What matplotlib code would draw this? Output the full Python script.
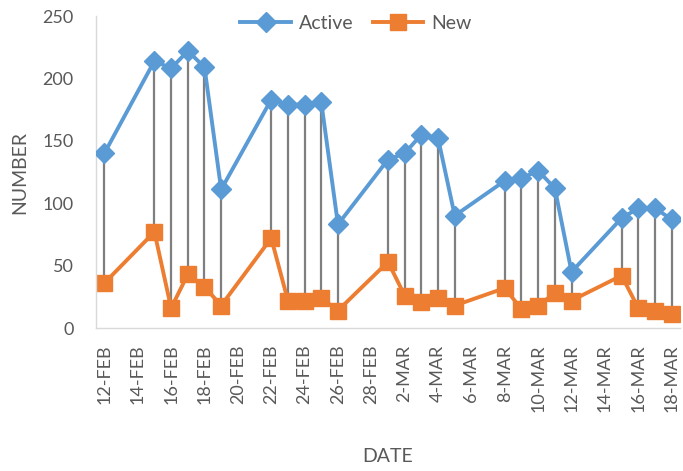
import matplotlib
matplotlib.use("Agg")
import matplotlib.pyplot as plt
import pandas as pd

plt.rcParams['font.family'] = ['Lato', 'DejaVu Sans']

dates = ["2021-02-12", "2021-02-15", "2021-02-16", "2021-02-17", "2021-02-18",
         "2021-02-19", "2021-02-22", "2021-02-23", "2021-02-24", "2021-02-25",
         "2021-02-26", "2021-03-01", "2021-03-02", "2021-03-03", "2021-03-04",
         "2021-03-05", "2021-03-08", "2021-03-09", "2021-03-10", "2021-03-11",
         "2021-03-12", "2021-03-15", "2021-03-16", "2021-03-17", "2021-03-18"]
active = [140, 214, 208, 222, 209, 111, 183, 179, 179, 181, 83,
          135, 140, 155, 152, 90, 118, 120, 126, 112, 45,
          88, 96, 96, 87]
new = [36, 77, 16, 43, 33, 18, 72, 22, 22, 24, 14,
       53, 26, 21, 24, 18, 32, 15, 18, 28, 22,
       42, 16, 14, 11]

x = pd.to_datetime(dates)
tick_dates = pd.date_range("2021-02-12", "2021-03-18", freq="2D")
tick_labels = [f"{d.day}-{d.strftime('%b').upper()}" for d in tick_dates]

BLUE = '#5B9BD5'
ORANGE = '#ED7D31'
TXT = '#595959'

fig = plt.figure(figsize=(6.83, 4.71), dpi=100)
ax = fig.add_axes([0.1406, 0.3036, 0.855, 0.6624])

ax.vlines(x, new, active, color='#7f7f7f', lw=1.6, zorder=1)
ax.plot(x, active, color=BLUE, lw=2.8, marker='D', markersize=10.5, label='Active', zorder=3)
ax.plot(x, new, color=ORANGE, lw=2.8, marker='s', markersize=12, label='New', zorder=2)

ax.set_ylim(0, 250)
ax.set_yticks(range(0, 251, 50))
ax.set_xlim(x[0] - pd.Timedelta(hours=12), x[-1] + pd.Timedelta(hours=12))
ax.set_xticks(tick_dates)
ax.set_xticklabels(tick_labels, rotation=90)

ax.tick_params(length=0, labelsize=13, colors=TXT, pad=12)
ax.tick_params(axis='y', pad=16)
for s in ['top', 'right']:
    ax.spines[s].set_visible(False)
for s in ['left', 'bottom']:
    ax.spines[s].set_color('#d9d9d9')
    ax.spines[s].set_linewidth(1)

ax.set_xlabel("DATE", fontsize=14, color=TXT, labelpad=26)
ax.set_ylabel("NUMBER", fontsize=14, color=TXT, labelpad=10)

ax.legend(loc='upper center', bbox_to_anchor=(0.445, 1.06), ncol=2, frameon=False,
          fontsize=14, labelcolor=TXT, handlelength=2.6, columnspacing=1.0,
          handletextpad=0.4)

fig.savefig("out.png", dpi=100)
